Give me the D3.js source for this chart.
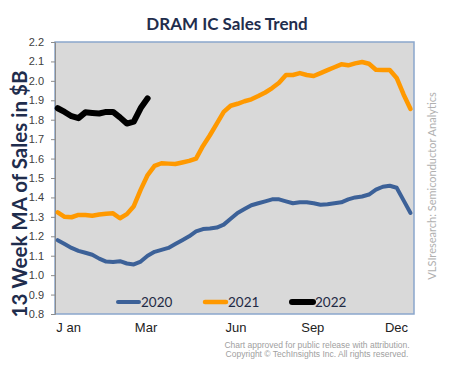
<!DOCTYPE html>
<html>
<head>
<meta charset="utf-8">
<script src="https://cdn.jsdelivr.net/npm/d3@7"></script>
<style>
  body { margin: 0; background: #fff; }
  svg { font-family: Lato, 'Open Sans', sans-serif; }
</style>
</head>
<body>
<div id="chart"></div>
<script>
var width = 450;
var height = 368;
var margin = { top: 42, right: 36, bottom: 54, left: 55 };
var graphWidth = width - margin.left - margin.right;
var graphHeight = height - margin.top - margin.bottom;

// weekly 13-week moving average, $B
var sales2020 = [1.18, 1.16, 1.14, 1.125, 1.115, 1.105, 1.085, 1.07, 1.068, 1.072,
  1.06, 1.055, 1.07, 1.10, 1.12, 1.13, 1.14, 1.16, 1.18, 1.20,
  1.225, 1.237, 1.24, 1.245, 1.26, 1.29, 1.32, 1.34, 1.36, 1.37,
  1.38, 1.39, 1.39, 1.38, 1.37, 1.375, 1.375, 1.37, 1.362, 1.365,
  1.37, 1.375, 1.39, 1.40, 1.405, 1.415, 1.44, 1.455, 1.46, 1.45,
  1.385, 1.32];
var sales2021 = [1.323, 1.30, 1.298, 1.31, 1.31, 1.306, 1.312, 1.316, 1.318, 1.293,
  1.314, 1.355, 1.44, 1.515, 1.562, 1.576, 1.574, 1.572, 1.58, 1.588,
  1.60, 1.665, 1.72, 1.78, 1.84, 1.872, 1.882, 1.895, 1.905, 1.922,
  1.94, 1.963, 1.99, 2.03, 2.03, 2.04, 2.03, 2.025, 2.04, 2.055,
  2.07, 2.085, 2.08, 2.09, 2.097, 2.088, 2.057, 2.056, 2.056, 2.015,
  1.93, 1.855];
var sales2022 = [1.859, 1.84, 1.818, 1.808, 1.838, 1.835, 1.832, 1.84, 1.84, 1.812,
  1.78, 1.79, 1.86, 1.91];

var monthLabels = ['J an', 'Mar', 'Jun', 'Sep', 'Dec'];
var monthWeeks = [1.5, 12.7, 25.7, 36.8, 48.9];
var yTicks = [0.8, 0.9, 1.0, 1.1, 1.2, 1.3, 1.4, 1.5, 1.6, 1.7, 1.8, 1.9, 2.0, 2.1, 2.2];

var series = [
  { name: '2020', values: sales2020, color: '#3c6198', width: 4 },
  { name: '2021', values: sales2021, color: '#ff9900', width: 4.5 },
  { name: '2022', values: sales2022, color: '#000000', width: 6 }
];

var svg = d3.select('#chart')
  .append('svg')
  .attr('width', width)
  .attr('height', height);

var graph = svg.append('g')
  .attr('transform', 'translate(' + margin.left + ',' + margin.top + ')');

var x = d3.scaleLinear().domain([0, 51]).range([2.7, graphWidth - 3.5]);
var y = d3.scaleLinear().domain([0.8, 2.2]).range([graphHeight, 0]);

// plot background
graph.append('rect')
  .attr('width', graphWidth)
  .attr('height', graphHeight)
  .attr('fill', '#d9d9d9')
  .attr('stroke', '#8aa6cc')
  .attr('stroke-width', 1.5);

// y axis
var yAxis = d3.axisLeft(y)
  .tickValues(yTicks)
  .tickFormat(d3.format('.1f'))
  .tickSize(4)
  .tickPadding(7);
var yAxisGroup = graph.append('g').attr('class', 'y-axis').call(yAxis);
yAxisGroup.select('.domain').attr('stroke', '#8c8c8c');
yAxisGroup.selectAll('.tick line').attr('stroke', '#8c8c8c');
yAxisGroup.selectAll('.tick text')
  .attr('fill', '#404040')
  .style('font-size', '11px');

// x axis labels
var xAxis = d3.axisBottom(x)
  .tickValues(monthWeeks)
  .tickFormat((d, i) => monthLabels[i])
  .tickSize(0)
  .tickPadding(9);
var xAxisGroup = graph.append('g')
  .attr('class', 'x-axis')
  .attr('transform', 'translate(0,' + graphHeight + ')')
  .call(xAxis);
xAxisGroup.select('.domain').remove();
xAxisGroup.selectAll('.tick text')
  .attr('fill', '#222')
  .style('font-size', '13px');

// lines
var line = d3.line()
  .x((d, i) => x(i))
  .y(d => y(d))
  .curve(d3.curveLinear);

graph.selectAll('.series')
  .data(series)
  .enter()
  .append('path')
  .attr('class', 'series')
  .attr('d', d => line(d.values))
  .attr('fill', 'none')
  .attr('stroke', d => d.color)
  .attr('stroke-width', d => d.width)
  .attr('stroke-linejoin', 'round')
  .attr('stroke-linecap', 'round');

// legend
var legendX = [63, 150, 237];
var legend = graph.selectAll('.legend')
  .data(series)
  .enter()
  .append('g')
  .attr('class', 'legend')
  .attr('transform', (d, i) => 'translate(' + legendX[i] + ',' + (graphHeight - 12) + ')');
legend.append('line')
  .attr('x1', 0)
  .attr('x2', 21)
  .attr('stroke', d => d.color)
  .attr('stroke-width', d => d.width)
  .attr('stroke-linecap', 'round');
legend.append('text')
  .attr('x', 23)
  .attr('dy', '0.35em')
  .attr('fill', '#1f2a44')
  .style('font-size', '13.5px')
  .text(d => d.name);

// title
svg.append('text')
  .attr('x', 227)
  .attr('y', 30)
  .attr('text-anchor', 'middle')
  .attr('fill', '#1f2d4d')
  .style('font-size', '17px')
  .style('font-weight', 'bold')
  .text('DRAM IC Sales Trend');

// y title
svg.append('text')
  .attr('transform', 'translate(27,194) rotate(-90)')
  .attr('text-anchor', 'middle')
  .attr('fill', '#1f2d4d')
  .style('font-size', '20.5px')
  .style('font-weight', 'bold')
  .text('13 Week MA of Sales in $B');

// source on the right
svg.append('text')
  .attr('transform', 'translate(436,186) rotate(-90)')
  .attr('text-anchor', 'middle')
  .attr('fill', '#b0b0b0')
  .style('font-size', '11px')
  .text('VLSIresearch: Semiconductor Analytics');

// footer
svg.append('text')
  .attr('x', 317)
  .attr('y', 348)
  .attr('text-anchor', 'middle')
  .attr('fill', '#a0a0a0')
  .style('font-size', '8.5px')
  .style('font-family', 'Liberation Sans, Arial, sans-serif')
  .text('Chart approved  for public release with attribution.');
svg.append('text')
  .attr('x', 317)
  .attr('y', 357)
  .attr('text-anchor', 'middle')
  .attr('fill', '#a0a0a0')
  .style('font-size', '8.5px')
  .style('font-family', 'Liberation Sans, Arial, sans-serif')
  .text('Copyright \u00a9 TechInsights  Inc.  All rights reserved.');
</script>
</body>
</html>
